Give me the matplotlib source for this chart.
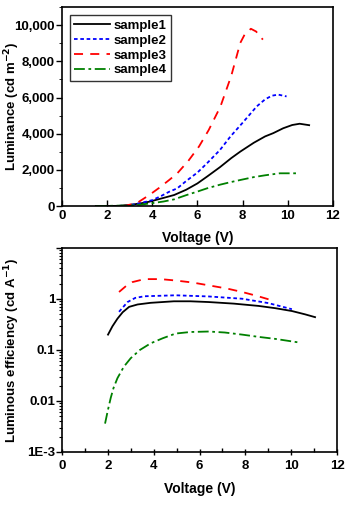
import numpy as np
import matplotlib
matplotlib.use('Agg')
import matplotlib.pyplot as plt
from matplotlib.ticker import FuncFormatter, MultipleLocator, LogLocator, NullFormatter

plt.rcParams['font.family'] = ['Liberation Sans', 'DejaVu Sans']
plt.rcParams['font.weight'] = 'bold'
plt.rcParams['axes.labelweight'] = 'bold'
plt.rcParams['mathtext.default'] = 'bf'

# luminance vs voltage
v1 = [1.5, 2.5, 3.0, 3.5, 3.87, 4.5, 4.97, 5.5, 6.0, 6.43, 7.0, 7.5, 7.9, 8.5, 9.0, 9.36, 9.8, 10.2, 10.53, 10.95]
l1 = [0, 10, 60, 150, 240, 450, 610, 900, 1250, 1630, 2150, 2650, 3010, 3500, 3850, 4030, 4300, 4480, 4550, 4470]
v2 = [2.5, 3.2, 3.6, 4.01, 4.4, 4.75, 5.11, 5.5, 6.0, 6.43, 7.0, 7.46, 8.0, 8.63, 9.0, 9.3, 9.58, 9.95]
l2 = [0, 90, 200, 330, 560, 790, 980, 1380, 1850, 2370, 3100, 3840, 4600, 5510, 5900, 6100, 6160, 6060]
v3 = [2.7, 3.3, 3.87, 4.3, 4.75, 5.11, 5.6, 6.07, 6.5, 7.02, 7.5, 7.9, 8.1, 8.37, 8.6, 8.9]
l3 = [0, 150, 610, 1000, 1440, 1810, 2500, 3290, 4200, 5500, 7200, 9020, 9500, 9800, 9650, 9200]
v4 = [1.5, 3.0, 3.5, 4.0, 4.5, 4.97, 5.5, 6.0, 6.43, 7.0, 7.5, 7.9, 8.5, 9.0, 9.65, 10.42]
l4 = [0, 30, 80, 160, 250, 370, 600, 800, 980, 1180, 1330, 1440, 1600, 1700, 1810, 1810]

# luminous efficiency vs voltage
e_v1 = [2.01, 2.2, 2.42, 2.65, 2.93, 3.3, 3.87, 4.88, 5.6, 6.4, 7.5, 8.58, 9.3, 10.03, 10.6, 11.04]
e1 = [0.2, 0.29, 0.41, 0.55, 0.7, 0.78, 0.84, 0.9, 0.9, 0.87, 0.81, 0.73, 0.66, 0.58, 0.5, 0.44]
e_v2 = [2.49, 2.86, 3.2, 3.6, 4.96, 6.4, 7.86, 9.0, 10.03]
e2 = [0.56, 0.87, 1.05, 1.13, 1.18, 1.12, 1.01, 0.83, 0.63]
e_v3 = [2.49, 2.8, 3.07, 3.6, 4.3, 4.96, 5.7, 6.4, 7.2, 7.86, 8.5, 9.06]
e3 = [1.37, 1.8, 2.14, 2.45, 2.45, 2.3, 2.1, 1.85, 1.6, 1.37, 1.15, 0.97]
e_v4 = [1.88, 2.0, 2.13, 2.25, 2.42, 2.7, 3.0, 3.4, 3.87, 4.4, 4.96, 5.6, 6.4, 7.1, 7.86, 8.6, 9.3, 10.35]
e4 = [0.0036, 0.0065, 0.0116, 0.018, 0.028, 0.047, 0.069, 0.1, 0.135, 0.17, 0.21, 0.225, 0.23, 0.22,
      0.2, 0.18, 0.165, 0.14]

labels = ['sample1', 'sample2', 'sample3', 'sample4']
colors = ['black', 'blue', 'red', 'green']
styles = ['-', (0, (2, 1.5)), (0, (5, 4)), (0, (6, 2, 1.5, 2))]

fig = plt.figure(figsize=(3.5, 5.05), dpi=100)
ax1 = fig.add_axes([0.177, 0.592, 0.774, 0.394])
ax2 = fig.add_axes([0.177, 0.105, 0.786, 0.404])

for vx, ly, lab, c, ls in zip([v1, v2, v3, v4], [l1, l2, l3, l4], labels, colors, styles):
    ax1.plot(vx, ly, color=c, linestyle=ls, lw=1.3, label=lab)

ax1.set_xlim(0, 12)
ax1.set_ylim(0, 11000)
ax1.xaxis.set_major_locator(MultipleLocator(2))
ax1.yaxis.set_major_locator(MultipleLocator(2000))
ax1.yaxis.set_minor_locator(MultipleLocator(1000))
ax1.yaxis.set_major_formatter(FuncFormatter(lambda y, p: f'{int(y):,}'))
ax1.tick_params(axis='x', direction='in', length=4, width=1, labelsize=9.5, pad=3)
ax1.tick_params(axis='y', direction='out', length=4, width=1, labelsize=9.5, pad=1)
ax1.tick_params(axis='y', which='minor', direction='out', length=2)
ax1.set_xlabel('Voltage (V)', fontsize=10)
ax1.set_ylabel('Luminance (cd m$^{-2}$)', fontsize=9.5)
ax1.yaxis.set_label_coords(-0.148, 0.5)
ax1.xaxis.set_label_coords(0.5, -0.125)
leg = ax1.legend(loc='upper left', fontsize=9.5, handlelength=2.7, frameon=True,
                 fancybox=False, edgecolor='black', borderpad=0.35,
                 labelspacing=0.2, handletextpad=0.25, borderaxespad=0.6)
leg.get_frame().set_linewidth(1)

for vx, ey, c, ls in zip([e_v1, e_v2, e_v3, e_v4], [e1, e2, e3, e4], colors, styles):
    ax2.plot(vx, ey, color=c, linestyle=ls, lw=1.3)

ax2.set_yscale('log')
ax2.set_xlim(0, 12)
ax2.set_ylim(1e-3, 10)
ax2.xaxis.set_major_locator(MultipleLocator(2))
ax2.xaxis.set_minor_locator(MultipleLocator(1))
ax2.yaxis.set_major_locator(LogLocator(base=10, numticks=10))
ax2.yaxis.set_minor_locator(LogLocator(base=10, subs=np.arange(2, 10), numticks=10))
ax2.yaxis.set_minor_formatter(NullFormatter())
ticktxt = {1e-3: '1E-3', 1e-2: '0.01', 1e-1: '0.1', 1: '1', 10: ''}
ax2.yaxis.set_major_formatter(FuncFormatter(lambda y, p: ticktxt.get(round(y, 6), '')))
ax2.tick_params(axis='x', which='major', direction='inout', length=5, width=1, labelsize=9.5)
ax2.tick_params(axis='x', which='minor', direction='in', length=3, width=1)
ax2.tick_params(axis='y', which='major', direction='out', length=4, width=1, labelsize=9.5, pad=1)
ax2.tick_params(axis='y', which='minor', direction='out', length=2, width=0.8)
ax2.set_xlabel('Voltage (V)', fontsize=10)
ax2.set_ylabel('Luminous efficiency (cd A$^{-1}$)', fontsize=9.5)
ax2.yaxis.set_label_coords(-0.146, 0.5)
ax2.xaxis.set_label_coords(0.5, -0.147)

for ax in (ax1, ax2):
    for s in ax.spines.values():
        s.set_linewidth(1.2)

fig.savefig('out.png', dpi=100)
